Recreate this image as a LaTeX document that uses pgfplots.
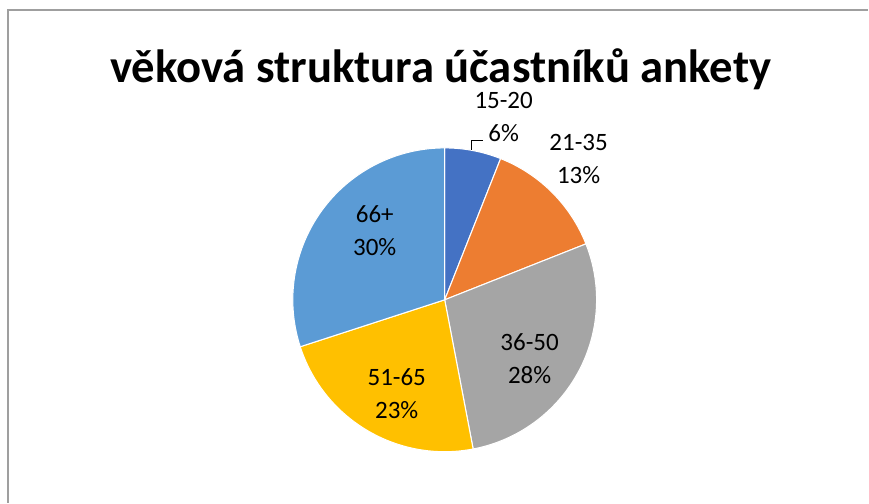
\documentclass[border=0pt]{standalone}
\usepackage{fontspec}
\setmainfont{Carlito}
\usepackage{pgfplots}
\usepackage{pgfplotstable}
\pgfplotsset{compat=1.18}
\definecolor{c0}{HTML}{4472C4}
\definecolor{c1}{HTML}{ED7D31}
\definecolor{c2}{HTML}{A5A5A5}
\definecolor{c3}{HTML}{FFC000}
\definecolor{c4}{HTML}{5B9BD5}
\pgfplotstableread{
label value
15-20 6
21-35 13
36-50 28
51-65 23
66+ 30
}\agedata
\begin{document}
\begin{tikzpicture}
\def\cum{0}
\pgfplotsforeachungrouped \i in {0,...,4}{%
  \pgfplotstablegetelem{\i}{value}\of\agedata
  \pgfmathsetmacro\st{90-3.6*\cum}%
  \pgfmathsetmacro\cum{\cum+\pgfplotsretval}%
  \pgfmathsetmacro\en{90-3.6*\cum}%
  \expandafter\xdef\csname st\i\endcsname{\st}%
  \expandafter\xdef\csname en\i\endcsname{\en}%
}
\begin{axis}[
  x=0.75pt, y=0.75pt,
  xmin=0, xmax=869, ymin=0, ymax=503,
  hide axis, clip=false, anchor=origin, at={(0,0)},
]
\path (axis cs:0,0) rectangle (axis cs:869,503);
\draw[gray!75, line width=0.9pt] (axis cs:8,0) -- (axis cs:8,493) -- (axis cs:869,493);
\pgfplotsinvokeforeach{0,...,4}{
  \fill[c#1, draw=white, line width=0.8pt] (axis cs:445,203) -- ++(\csname st#1\endcsname:114pt)
     arc[start angle=\csname st#1\endcsname, end angle=\csname en#1\endcsname, radius=114pt] -- cycle;
}
\node[anchor=base, font=\fontsize{35}{42}\selectfont\bfseries] at (axis cs:441,420) {věková struktura účastníků ankety};
\draw[black, line width=0.6pt] (axis cs:472,353) -- (axis cs:472,363) -- (axis cs:483,363);
\begin{scope}[every node/.style={align=center, font=\fontsize{18.75}{24.75}\selectfont}]
\node at (axis cs:504,386) {15-20\\6\%};
\node at (axis cs:579,344) {21-35\\13\%};
\node at (axis cs:530,144) {36-50\\28\%};
\node at (axis cs:397,109) {51-65\\23\%};
\node at (axis cs:375,272) {66+\\30\%};
\end{scope}
\end{axis}
\end{tikzpicture}
\end{document}
